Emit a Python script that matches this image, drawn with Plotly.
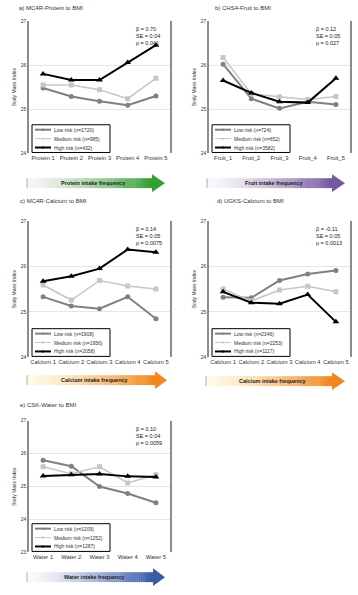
import plotly.graph_objects as go

W, H = 358, 595

# ---------------- data ----------------
titles = ["a) MC4R-Protein to BMI", "b) CHS4-Fruit to BMI", "c) MC4R-Calcium to BMI",
          "d) UGKS-Calcium to BMI", "e) CSK-Water to BMI"]
cats_a = ["Protein 1", "Protein 2", "Protein 3", "Protein 4", "Protein 5"]
cats_b = ["Fruit_1", "Fruit_2", "Fruit_3", "Fruit_4", "Fruit_5"]
cats_c = ["Calcium 1", "Calcium 2", "Calcium 3", "Calcium 4", "Calcium 5"]
cats_d = ["Calcium 1", "Calcium 2", "Calcium 3", "Calcium 4", "Calcium 5"]
cats_e = ["Water 1", "Water 2", "Water 3", "Water 4", "Water 5"]

low_a = [25.48, 25.29, 25.18, 25.09, 25.30]
med_a = [25.55, 25.55, 25.44, 25.24, 25.70]
high_a = [25.80, 25.66, 25.66, 26.06, 26.45]

low_b = [26.02, 25.24, 25.02, 25.17, 25.11]
med_b = [26.17, 25.35, 25.28, 25.22, 25.29]
high_b = [25.65, 25.37, 25.17, 25.15, 25.70]

low_c = [25.33, 25.13, 25.07, 25.33, 24.85]
med_c = [25.59, 25.26, 25.69, 25.57, 25.50]
high_c = [25.67, 25.78, 25.95, 26.37, 26.31]

low_d = [25.32, 25.31, 25.69, 25.83, 25.91]
med_d = [25.50, 25.24, 25.48, 25.56, 25.44]
high_d = [25.44, 25.20, 25.18, 25.38, 24.78]

low_e = [25.80, 25.62, 25.00, 24.79, 24.51]
med_e = [25.60, 25.39, 25.60, 25.11, 25.36]
high_e = [25.32, 25.36, 25.38, 25.31, 25.29]

legend_a = ["Low risk (n=1720)", "Medium risk (n=985)", "High risk (n=432)"]
legend_b = ["Low risk (n=724)", "Medium risk (n=652)", "High risk (n=3582)"]
legend_c = ["Low risk (n=1908)", "Medium risk (n=1956)", "High risk (n=2058)"]
legend_d = ["Low risk (n=2346)", "Medium risk (n=2253)", "High risk (n=1117)"]
legend_e = ["Low risk (n=1209)", "Medium risk (n=1252)", "High risk (n=1287)"]

stats_a = ["β = 0.70", "SE = 0.04", "p = 0.041"]
stats_b = ["β = 0.12", "SE = 0.05", "p = 0.027"]
stats_c = ["β = 0.14", "SE = 0.05", "p = 0.0075"]
stats_d = ["β = -0.11", "SE = 0.05", "p = 0.0013"]
stats_e = ["β = 0.10", "SE = 0.04", "p = 0.0059"]

arrow_labels = ["Protein intake frequency", "Fruit intake frequency", "Calcium intake frequency",
                "Calcium intake frequency", "Water intake frequency"]
yranges = [[24, 27], [24, 27], [24, 27], [24, 27], [23, 27]]

# ---------------- layout geometry (pixels) ----------------
boxes = [  # left, right, top, bottom
    (29, 170, 18, 152),
    (209, 350, 18, 152),
    (29, 170, 220, 358),
    (209, 350, 220, 358),
    (29, 170, 422, 555),
]
arrows = [  # x0, head start, tip, y0, y1, start colour, end colour
    (27, 152, 165, 177, 187, (245, 245, 245), (50, 160, 50)),
    (207, 332, 345, 177, 187, (250, 248, 252), (118, 88, 160)),
    (27, 155, 167, 376, 386, (255, 250, 230), (240, 136, 30)),
    (206, 332, 345, 377, 387, (255, 250, 230), (240, 136, 30)),
    (27, 153, 165, 575, 585, (250, 250, 252), (58, 90, 170)),
]
title_pos = [(17, 5), (213, 5), (18, 200), (215, 200), (18, 406)]

def fx(p):
    return p / W

def fy(p):
    return 1 - p / H

cats = [cats_a, cats_b, cats_c, cats_d, cats_e]
lows = [low_a, low_b, low_c, low_d, low_e]
meds = [med_a, med_b, med_c, med_d, med_e]
highs = [high_a, high_b, high_c, high_d, high_e]
legends = [legend_a, legend_b, legend_c, legend_d, legend_e]
stats = [stats_a, stats_b, stats_c, stats_d, stats_e]

FONT = "Liberation Sans, Arial, sans-serif"
fig = go.Figure()
layout = dict(width=W, height=H, margin=dict(l=0, r=0, t=0, b=0),
              paper_bgcolor="white", plot_bgcolor="white",
              font=dict(family=FONT, color="#333333"), showlegend=False)
shapes = []
annotations = []

styles = [
    dict(color="#808080", symbol="circle", size=5, width=2),
    dict(color="#c6c6c6", symbol="square", size=5, width=1.5),
    dict(color="#000000", symbol="triangle-up", size=6, width=2),
]
leg_line_w = [2, 1, 2]

for i in range(5):
    k = "" if i == 0 else str(i + 1)
    l, r, t, b = boxes[i]
    xa, ya = "x" + k, "y" + k
    series = [lows[i], meds[i], highs[i]]
    for j in range(3):
        st = styles[j]
        fig.add_trace(go.Scatter(
            x=cats[i], y=series[j], name=legends[i][j], mode="lines+markers",
            line=dict(color=st["color"], width=st["width"]),
            marker=dict(color=st["color"], symbol=st["symbol"], size=st["size"]),
            xaxis=xa, yaxis=ya))
    layout["xaxis" + k] = dict(domain=[fx(l), fx(r)], anchor=ya, type="category",
                               range=[-0.5, 4.5], showline=False, showgrid=False,
                               zeroline=False, ticks="", tickfont=dict(size=5.8, color="#333"))
    yr = yranges[i]
    layout["yaxis" + k] = dict(domain=[fy(b), fy(t)], anchor=xa, range=yr,
                               dtick=1, showline=True, mirror=True, linecolor="#8c8c8c",
                               linewidth=1.5, showgrid=True, gridcolor="#e6e6e6",
                               zeroline=False, ticks="", tickfont=dict(size=5, color="#333"),
                               title=dict(text="Body Mass Index", font=dict(size=5, color="#333"),
                                          standoff=4))
    # manual legend box
    lx0, lx1, ly0, ly1 = l + 3, l + 81, b - 29, b - 1
    shapes.append(dict(type="rect", xref="paper", yref="paper", x0=fx(lx0), x1=fx(lx1),
                       y0=fy(ly1), y1=fy(ly0), fillcolor="white",
                       line=dict(color="black", width=1), layer="above"))
    for j in range(3):
        ry = ly0 + 5 + j * 9
        shapes.append(dict(type="line", xref="paper", yref="paper", x0=fx(lx0 + 3),
                           x1=fx(lx0 + 19), y0=fy(ry), y1=fy(ry),
                           line=dict(color=styles[j]["color"], width=leg_line_w[j]),
                           layer="above"))
        shapes.append(dict(type="rect", xref="paper", yref="paper", x0=fx(lx0 + 10),
                           x1=fx(lx0 + 12), y0=fy(ry + 1), y1=fy(ry - 1),
                           fillcolor=styles[j]["color"], line=dict(width=0), layer="above"))
        annotations.append(dict(x=fx(lx0 + 20), y=fy(ry), xref="paper", yref="paper",
                                xanchor="left", yanchor="middle", showarrow=False,
                                text=legends[i][j], font=dict(size=5, color="#333")))
    # stats text
    annotations.append(dict(x=fx(r - 36), y=fy(t + 3), xref="paper", yref="paper",
                            xanchor="left", yanchor="top", align="left", showarrow=False,
                            text="<br>".join(stats[i]), font=dict(size=5.5, color="#222")))
    # title
    tx, ty = title_pos[i]
    annotations.append(dict(x=fx(tx), y=fy(ty), xref="paper", yref="paper",
                            xanchor="left", yanchor="middle", showarrow=False,
                            text=titles[i], font=dict(size=6, color="#333")))
    # gradient arrow
    x0, hx, tip, y0, y1, c0, c1 = arrows[i]
    n = 60
    for s in range(n):
        f = (s / (n - 1)) ** 1.4
        c = tuple(int(round(c0[q] + (c1[q] - c0[q]) * f)) for q in range(3))
        xs0 = x0 + (hx - x0) * s / n
        xs1 = x0 + (hx - x0) * (s + 1) / n + 0.3
        shapes.append(dict(type="rect", xref="paper", yref="paper",
                           x0=fx(xs0), x1=fx(xs1), y0=fy(y1), y1=fy(y0),
                           fillcolor="rgb(%d,%d,%d)" % c, line=dict(width=0), layer="above"))
    ym = (y0 + y1) / 2
    path = "M %f %f L %f %f L %f %f Z" % (fx(hx), fy(y0 - 4), fx(tip), fy(ym), fx(hx), fy(y1 + 4))
    shapes.append(dict(type="path", xref="paper", yref="paper", path=path,
                       fillcolor="rgb(%d,%d,%d)" % c1, line=dict(width=0), layer="above"))
    shapes.append(dict(type="line", xref="paper", yref="paper", x0=fx(x0), x1=fx(x0),
                       y0=fy(y1), y1=fy(y0), line=dict(color="#999", width=0.8), layer="above"))
    annotations.append(dict(x=fx((x0 + hx) / 2 + 4), y=fy(ym), xref="paper", yref="paper",
                            xanchor="center", yanchor="middle", showarrow=False,
                            text="<b>" + arrow_labels[i] + "</b>",
                            font=dict(size=5.5, color="#222")))

layout["shapes"] = shapes
layout["annotations"] = annotations
fig.update_layout(**layout)
fig.write_html("out.html", config={"displayModeBar": False},
               post_script="document.body.style.margin='0';document.body.style.overflow='hidden';")
